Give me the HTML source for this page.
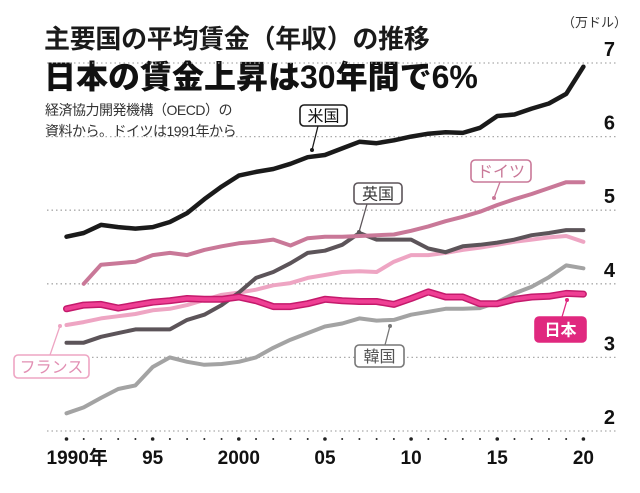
<!DOCTYPE html>
<html><head><meta charset="utf-8">
<style>
html,body{margin:0;padding:0;background:#fff;}
body{width:640px;height:493px;overflow:hidden;position:relative;font-family:"Liberation Sans","Noto Sans CJK JP",sans-serif;}
.t{position:absolute;white-space:nowrap;}
</style></head>
<body>
<div class="t" style="left:44px;top:24px;font-size:26px;line-height:30px;font-weight:bold;color:#1a1a1a;letter-spacing:-0.3px;">主要国の平均賃金（年収）の推移</div>
<div class="t" style="left:44px;top:59px;font-size:32px;line-height:36px;font-weight:900;color:#111;letter-spacing:0px;">日本の賃金上昇は30年間で6%</div>
<div class="t" style="left:45px;top:100px;font-size:14px;line-height:21px;color:#333;letter-spacing:-0.5px;">経済協力開発機構（OECD）の<br>資料から。ドイツは1991年から</div>
<div class="t" style="left:562px;top:12px;font-size:13px;color:#333;">（万ドル）</div>
<svg id="chart" width="640" height="493" style="position:absolute;left:0;top:0;" xmlns="http://www.w3.org/2000/svg"></svg>
<script>
const years = [1990,1991,1992,1993,1994,1995,1996,1997,1998,1999,2000,2001,2002,2003,2004,2005,2006,2007,2008,2009,2010,2011,2012,2013,2014,2015,2016,2017,2018,2019,2020];
const usValues = [4.64,4.69,4.80,4.77,4.75,4.77,4.84,4.96,5.15,5.32,5.47,5.52,5.56,5.63,5.72,5.75,5.84,5.93,5.91,5.95,6.00,6.04,6.06,6.05,6.12,6.28,6.30,6.38,6.45,6.58,6.95];
const germanyValues = [null,4.00,4.26,4.28,4.30,4.39,4.42,4.39,4.46,4.51,4.55,4.57,4.60,4.52,4.62,4.64,4.64,4.65,4.66,4.67,4.72,4.78,4.85,4.91,4.98,5.07,5.15,5.22,5.30,5.38,5.38];
const ukValues = [3.20,3.20,3.28,3.33,3.38,3.38,3.38,3.51,3.58,3.71,3.88,4.08,4.16,4.28,4.42,4.45,4.53,4.69,4.60,4.60,4.60,4.48,4.43,4.51,4.53,4.56,4.60,4.66,4.69,4.73,4.73];
const franceValues = [3.44,3.48,3.53,3.56,3.59,3.64,3.66,3.71,3.78,3.85,3.88,3.92,3.98,4.01,4.08,4.12,4.16,4.17,4.16,4.30,4.39,4.39,4.42,4.46,4.49,4.53,4.57,4.60,4.63,4.65,4.57];
const japanValues = [3.66,3.71,3.72,3.67,3.71,3.75,3.77,3.80,3.79,3.79,3.82,3.77,3.69,3.69,3.73,3.79,3.77,3.76,3.76,3.72,3.80,3.89,3.82,3.82,3.73,3.73,3.79,3.82,3.83,3.87,3.86];
const koreaValues = [2.24,2.32,2.45,2.57,2.62,2.87,3.00,2.94,2.90,2.91,2.94,3.00,3.13,3.24,3.33,3.42,3.46,3.53,3.50,3.51,3.58,3.62,3.66,3.66,3.67,3.75,3.87,3.96,4.09,4.25,4.21];
const yTicks = [2,3,4,5,6,7];
const xTickYears = [1990,1995,2000,2005,2010,2015,2020];
const xTickLabels = ["1990年","95","2000","05","10","15","20"];

const svg = document.getElementById('chart');
const NS = 'http://www.w3.org/2000/svg';
const xS = y => 66.5 + (y - 1990) * 17.23;
const yS = v => 431 - (v - 2) * 73.6;
function mk(tag, attrs){ const e=document.createElementNS(NS,tag); for(const k in attrs) e.setAttribute(k,attrs[k]); svg.appendChild(e); return e; }

yTicks.forEach(v=>{
  const g = mk('line',{x1:47,x2:616,y1:yS(v),y2:yS(v),stroke:'#aaa','stroke-width':1.3,'stroke-dasharray':'1.5 3'});
  
  
  const t = mk('text',{x:615,y:yS(v)-7,'text-anchor':'end','font-size':20,'font-weight':'bold',fill:'#111','font-family':'"Liberation Sans Narrow","Liberation Sans",sans-serif'});
  t.textContent = v;
  
  
});
years.forEach(y=>{
  const major = xTickYears.includes(y);
  const d = mk('circle',{cx:xS(y),cy:439,r:major?1.8:1,fill:'#222'});
  
  
});
xTickYears.forEach((y,i)=>{
  const t = mk('text',{x:xS(y)+(i===0?-20:0),y:464,'text-anchor':i===0?'start':'middle','font-size':19,'font-weight':'bold',fill:'#111','font-family':'"Liberation Sans Narrow","Liberation Sans","Noto Sans CJK JP",sans-serif'});
  t.textContent = xTickLabels[i];
  
  
});

function line(vals,color,w,name){
  let d='';
  vals.forEach((v,i)=>{ if(v==null) return; d += (d?'L':'M') + xS(years[i]).toFixed(1)+','+yS(v).toFixed(1); });
  const p = mk('path',{d:d,fill:'none',stroke:color,'stroke-width':w,'stroke-linejoin':'round','stroke-linecap':'round'});
  
  
}
line(koreaValues,'#a3a3a3',4,'korea-line');
line(franceValues,'#eea5c3',4,'france-line');
line(ukValues,'#5c5459',4,'uk-line');
line(germanyValues,'#c97898',4,'germany-line');
line(usValues,'#1a1a1a',4.5,'us-line');
(function(){
  let d='';
  japanValues.forEach((v,i)=>{ d += (i?'L':'M') + xS(years[i]).toFixed(1)+','+yS(v).toFixed(1); });
  const o = mk('path',{d:d,fill:'none',stroke:'#c41a6c','stroke-width':7,'stroke-linejoin':'round','stroke-linecap':'round'});
  
  
  const p = mk('path',{d:d,fill:'none',stroke:'#ef3f94','stroke-width':4,'stroke-linejoin':'round','stroke-linecap':'round'});
  
  
})();

function label(text,x,y,w,h,stroke,fill,color,lx1,ly1,lx2,ly2,name){
  const l = mk('line',{x1:lx1,y1:ly1,x2:lx2,y2:ly2,stroke:stroke,'stroke-width':1.3});
  
  
  const c = mk('circle',{cx:lx2,cy:ly2,r:2,fill:stroke});
  
  
  const r = mk('rect',{x:x,y:y,width:w,height:h,rx:4,fill:fill,stroke:stroke,'stroke-width':1.6});
  
  
  const t = mk('text',{x:x+w/2,y:y+h/2+6,'text-anchor':'middle','font-size':16,fill:color,'font-family':'"Liberation Sans","Noto Sans CJK JP",sans-serif','font-weight':name==='japan-label'?'bold':'normal'});
  t.textContent = text;
  
  
}
label('米国',300,105,47,21,'#1a1a1a','#fff','#111',318,126,312,150,'us-label');
label('英国',354,183,48,21,'#5c5459','#fff','#333',367,204,359,232,'uk-label');
label('ドイツ',471,160,60,22,'#c97898','#fff','#c97898',500,182,494,198,'germany-label');
label('日本',535,317,51,25,'#e0287f','#e0287f','#fff',562,317,567,300,'japan-label');
label('韓国',355,345,49,22,'#777','#fff','#555',385,345,390,326,'korea-label');
label('フランス',14,355,75,23,'#eea5c3','#fff','#e28fb3',50,355,60,326,'france-label');
</script>
</body></html>
